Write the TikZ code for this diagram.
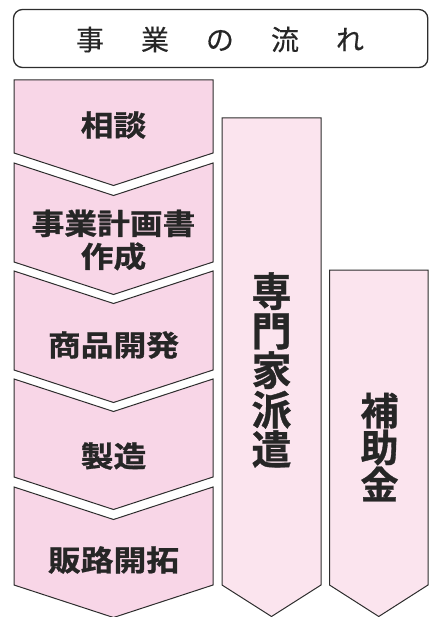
\documentclass[tikz,border=0pt]{standalone}
\usepackage{fontspec}
\newfontfamily\jpr{Noto Sans CJK JP}[FakeBold=0.4]
\newfontfamily\jpb{Noto Sans CJK JP Bold}[FakeBold=0.9]
\definecolor{pinkA}{RGB}{248,214,231}
\definecolor{pinkB}{RGB}{251,228,238}
\definecolor{edge}{RGB}{45,45,45}
\begin{document}
\begin{tikzpicture}[x=1pt,y=-1pt,
  flowstep/.style={fill=pinkA,draw=edge,line width=1pt,line join=miter},
  colstep/.style={fill=pinkB,draw=edge,line width=1pt,line join=miter},
  steplabel/.style={font=\jpb\fontsize{29}{33}\selectfont,text=black!85,align=center,inner sep=0pt,xscale=1.13},
  collabel/.style={font=\jpb\fontsize{40}{39.5}\selectfont,text=black!85,align=center,inner sep=0pt},
  collabelb/.style={font=\jpb\fontsize{38}{37}\selectfont,text=black!85,align=center,inner sep=0pt}]
\useasboundingbox (0,0) rectangle (429,617);
% title
\draw[draw=edge,line width=1.3pt,rounded corners=9pt,fill=white] (13.5,9.5) rectangle (427.8,67.5);
\node[font=\jpr\fontsize{28}{28}\selectfont,text=black!85,inner sep=0pt] (title) at (220,39.5)
  {事\hspace{37pt}業\hspace{37pt}の\hspace{37pt}流\hspace{37pt}れ};
% left chevrons
\def\d{32.5}
\draw[flowstep] (14,80) -- (213,80) -- (213,153) -- (113.5,153+\d) -- (14,153) -- cycle;
\draw[flowstep] (14,163) -- (113.5,163+\d) -- (213,163) -- (213,262) -- (113.5,262+\d) -- (14,262) -- cycle;
\draw[flowstep] (14,271) -- (113.5,271+\d) -- (213,271) -- (213,370) -- (113.5,370+\d) -- (14,370) -- cycle;
\draw[flowstep] (14,379) -- (113.5,379+\d) -- (213,379) -- (213,477) -- (113.5,477+\d) -- (14,477) -- cycle;
\draw[flowstep] (14,487) -- (113.5,487+\d) -- (213,487) -- (213,585) -- (113.5,585+\d) -- (14,585) -- cycle;
\node[steplabel] (s1) at (113.5,125) {相談};
\node[steplabel] (s2) at (113.5,240) {事業計画書\\作成};
\node[steplabel] (s3) at (113.5,345) {商品開発};
\node[steplabel] (s4) at (113.5,456) {製造};
\node[steplabel] (s5) at (113.5,560) {販路開拓};
% right columns
\draw[colstep] (222,118) -- (321,118) -- (321,585) -- (271.5,616.5) -- (222,585) -- cycle;
\draw[colstep] (329.5,270) -- (428,270) -- (428,585) -- (378.75,616.5) -- (329.5,585) -- cycle;
\node[collabel] (c1) at (271.5,370) {専\\門\\家\\派\\遣};
\node[collabelb] (c2) at (379.5,447) {補\\助\\金};
\end{tikzpicture}
\end{document}
